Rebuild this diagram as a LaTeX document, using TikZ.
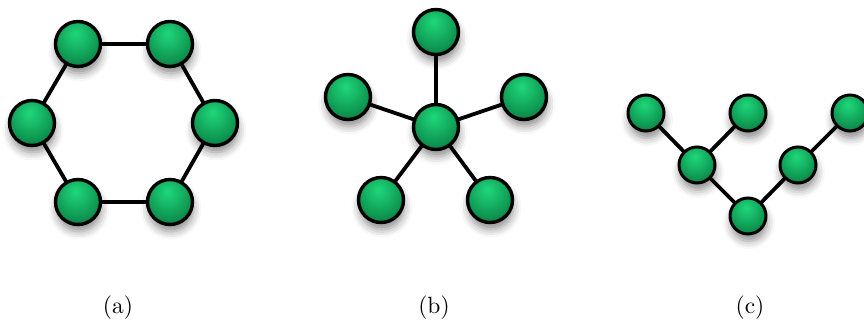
\documentclass[tikz,border=0pt]{standalone}
\usepackage{graphicx}
\usetikzlibrary{shadows.blur,backgrounds}
\definecolor{ballhl}{RGB}{30,215,122}
\definecolor{ballmid}{RGB}{14,148,80}
\definecolor{balldark}{RGB}{5,82,42}
\pgfdeclareradialshading{greenball}{\pgfpoint{-3bp}{12bp}}{color(0bp)=(ballhl); color(11bp)=(ballhl!60!ballmid); color(26bp)=(ballmid); color(44bp)=(balldark); color(70bp)=(balldark)}
\newcommand{\captext}[1]{\scalebox{2.35}{#1}}
\tikzset{
  ballnode/.style={circle, draw=black, line width=3.4pt, inner sep=0pt, minimum size=45pt,
    shading=greenball,
    blur shadow={shadow xshift=1pt, shadow yshift=-7pt, shadow blur radius=8pt, shadow opacity=45}},
  smallball/.style={ballnode, minimum size=36pt, line width=3pt},
  link/.style={draw=black, line width=3.8pt},
  caption/.style={anchor=base, inner sep=0pt}
}
\begin{document}
\begin{tikzpicture}[x=1pt,y=-1pt]
\useasboundingbox (0,0) rectangle (864,320);
% (a) ring
\node[ballnode] (a1) at (78,44) {};
\node[ballnode] (a2) at (170,44) {};
\node[ballnode] (a3) at (215,123) {};
\node[ballnode] (a4) at (170,202) {};
\node[ballnode] (a5) at (78,202) {};
\node[ballnode] (a6) at (32,123) {};
% (b) star
\node[ballnode] (bc) at (436,127) {};
\node[ballnode] (bt) at (436,32) {};
\node[ballnode] (bl) at (348,97) {};
\node[ballnode] (br) at (524,97) {};
\node[ballnode] (bbl) at (381,200) {};
\node[ballnode] (bbr) at (490,200) {};
% (c) tree
\node[smallball] (c1) at (646,113) {};
\node[smallball] (c2) at (748,113) {};
\node[smallball] (c3) at (850,113) {};
\node[smallball] (c4) at (697,165) {};
\node[smallball] (c5) at (798,165) {};
\node[smallball] (c6) at (748,216) {};
\begin{pgfonlayer}{background}
\draw[link] (a1.center) -- (a2.center) -- (a3.center) -- (a4.center) -- (a5.center) -- (a6.center) -- cycle;
\draw[link] (bc.center) -- (bt.center);
\draw[link] (bc.center) -- (bl.center);
\draw[link] (bc.center) -- (br.center);
\draw[link] (bc.center) -- (bbl.center);
\draw[link] (bc.center) -- (bbr.center);
\draw[link] (c1.center) -- (c4.center);
\draw[link] (c2.center) -- (c4.center);
\draw[link] (c4.center) -- (c6.center);
\draw[link] (c6.center) -- (c5.center);
\draw[link] (c5.center) -- (c3.center);
\end{pgfonlayer}
% captions
\node[caption] (la) at (118,313) {\captext{(a)}};
\node[caption] (lb) at (434,313) {\captext{(b)}};
\node[caption] (lc) at (750,313) {\captext{(c)}};
\end{tikzpicture}
\end{document}
